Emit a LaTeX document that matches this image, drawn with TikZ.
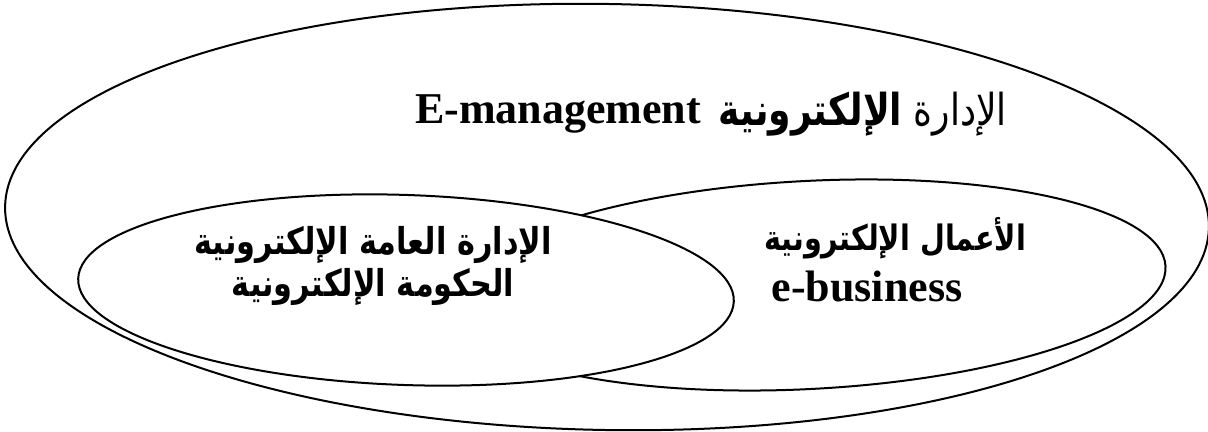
\documentclass[tikz,border=0pt]{standalone}
\usepackage{fontspec}
\setmainfont{Liberation Serif}
\newfontfamily\arabicfont[Script=Arabic,FakeStretch=0.82]{DejaVu Sans}
\TeXXeTstate=1
\usepackage{tikz}
\usetikzlibrary{positioning,shapes.geometric}
\definecolor{cLine}{HTML}{000000}
\tikzset{
  node-set/.style={draw=cLine,line width=1pt,ellipse,inner sep=0pt},
  node-en/.style={inner sep=0pt,font=\bfseries\fontsize{22}{26}\selectfont},
  node-ar/.style={inner sep=0pt,align=center,
    font=\arabicfont\bfseries\fontsize{18.5}{21}\selectfont},
}

\begin{document}
\begin{tikzpicture}[x=0.5pt,y=-0.5pt]
  \useasboundingbox (0,0) rectangle (1208,432);
  % the three sets, the inner left one drawn last
  \node[node-set,minimum width=602pt,minimum height=213pt,rotate=-1] (outer) at (607,217) {};
  \node[node-set,minimum width=358pt,minimum height=104pt,rotate=3] (biz) at (808,285) {};
  \node[node-set,fill=white,minimum width=328pt,minimum height=95pt,rotate=-2] (gov) at (406,290) {};
  \node[node-en] (mgmt-en) at (558,114) {E-management};
  \node[node-ar,right=3mm of mgmt-en,font=\arabicfont\fontsize{22}{24}\selectfont] (mgmt-ar)
    {\beginR الإدارة \textbf{الإلكترونية}\endR};
  \node[node-ar] (gov-ar) at (373,266) {\beginR الإدارة العامة الإلكترونية\endR\\\beginR الحكومة الإلكترونية\endR};
  \node[node-ar,font=\arabicfont\bfseries\fontsize{17.5}{21}\selectfont] (biz-ar) at (895,238)
    {\beginR الأعمال الإلكترونية\endR};
  \node[node-en] (biz-en) at (867,287) {e-business};
\end{tikzpicture}
\end{document}
